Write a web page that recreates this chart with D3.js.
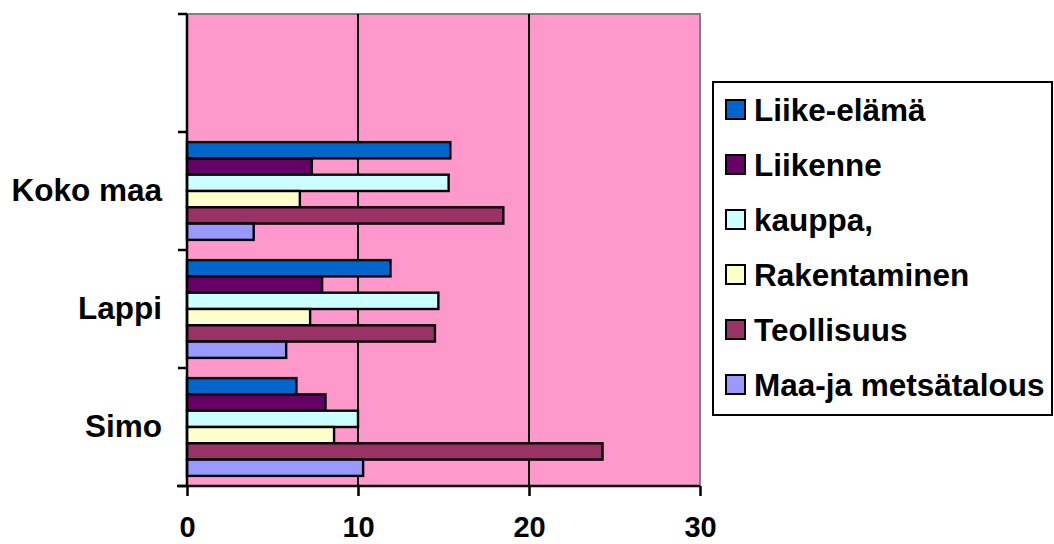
<!DOCTYPE html>
<html>
<head>
<meta charset="utf-8">
<script src="https://cdn.jsdelivr.net/npm/d3@7/dist/d3.min.js"></script>
<style>
  html, body { margin: 0; padding: 0; background: #fff; }
  svg { display: block; }
  text { font-family: Arial, "Liberation Sans", sans-serif; font-weight: bold; fill: #000; }
</style>
</head>
<body>
<svg id="chart" width="1054" height="544"></svg>
<script>
// ---- data ----
const categories = ["", "Koko maa", "Lappi", "Simo"]; // top to bottom
const dataCategories = ["Koko maa", "Lappi", "Simo"];
const seriesNames = ["Liike-elämä", "Liikenne", "kauppa,", "Rakentaminen", "Teollisuus", "Maa-ja metsätalous"];
const seriesColors = ["#0066CC", "#660066", "#CCFFFF", "#FFFFCC", "#993366", "#9999FF"];
const liikeElama   = [15.4, 11.9, 6.4];
const liikenne     = [7.3, 7.9, 8.1];
const kauppa       = [15.3, 14.7, 10.0];
const rakentaminen = [6.6, 7.2, 8.6];
const teollisuus   = [18.5, 14.5, 24.3];
const maaMetsa     = [3.9, 5.8, 10.3];
const xTicks = [0, 10, 20, 30];

const seriesValues = [liikeElama, liikenne, kauppa, rakentaminen, teollisuus, maaMetsa];

// ---- layout ----
const svg = d3.select("#chart");
const plot = { left: 187, right: 700, top: 14, bottom: 486 };

const x = d3.scaleLinear().domain([0, 30]).range([plot.left, plot.right]);
const y = d3.scaleBand().domain(categories).range([plot.top, plot.bottom]).paddingInner(0).paddingOuter(0);
const inner = d3.scaleBand().domain(seriesNames).range([0, y.bandwidth()]).paddingOuter(0.62).paddingInner(0);

// plot background
svg.append("rect")
  .attr("x", plot.left).attr("y", plot.top)
  .attr("width", plot.right - plot.left).attr("height", plot.bottom - plot.top)
  .attr("fill", "#FF99CC");

// gray border top & right
svg.append("path")
  .attr("d", `M${plot.left},${plot.top}H${plot.right}V${plot.bottom}`)
  .attr("fill", "none").attr("stroke", "#808080").attr("stroke-width", 2);

// gridlines
svg.append("g").selectAll("line")
  .data(xTicks.filter(t => t > 0 && t < 30))
  .join("line")
  .attr("x1", d => x(d)).attr("x2", d => x(d))
  .attr("y1", plot.top).attr("y2", plot.bottom)
  .attr("stroke", "#000").attr("stroke-width", 2);

// bars
const barData = [];
seriesNames.forEach((s, si) => {
  dataCategories.forEach((c, ci) => {
    barData.push({ series: s, cat: c, value: seriesValues[si][ci], color: seriesColors[si] });
  });
});
svg.append("g").selectAll("rect")
  .data(barData)
  .join("rect")
  .attr("x", x(0))
  .attr("y", d => y(d.cat) + inner(d.series))
  .attr("width", d => x(d.value) - x(0))
  .attr("height", inner.bandwidth())
  .attr("fill", d => d.color)
  .attr("stroke", "#000").attr("stroke-width", 2.4);

// x axis
const xAxis = d3.axisBottom(x).tickValues(xTicks).tickSize(10).tickPadding(20).tickFormat(d3.format("d"));
const gx = svg.append("g").attr("transform", `translate(0,${plot.bottom})`).call(xAxis);
gx.select(".domain").attr("stroke", "#000").attr("stroke-width", 2.5).attr("d", `M${plot.left - 10},0H${plot.right}`);
gx.selectAll(".tick line").attr("stroke", "#000").attr("stroke-width", 2.5);
gx.selectAll(".tick text").attr("font-size", 29).attr("font-family", "Arial, 'Liberation Sans', sans-serif").attr("font-weight", "bold").attr("fill", "#000");

// y axis
const yAxis = d3.axisLeft(y).tickSize(0).tickPadding(25);
const gy = svg.append("g").attr("transform", `translate(${plot.left},0)`).call(yAxis);
gy.select(".domain").attr("stroke", "#000").attr("stroke-width", 2.5).attr("d", `M0,${plot.top}V${plot.bottom}`);
gy.selectAll(".tick text").attr("font-size", 31.5).attr("font-family", "Arial, 'Liberation Sans', sans-serif").attr("font-weight", "bold").attr("fill", "#000");
// category boundary ticks
const bounds = categories.map(c => y(c)).concat([plot.bottom]);
svg.append("g").selectAll("line")
  .data(bounds)
  .join("line")
  .attr("x1", plot.left - 9).attr("x2", plot.left)
  .attr("y1", d => d).attr("y2", d => d)
  .attr("stroke", "#000").attr("stroke-width", 2.5);

// legend
const lg = svg.append("g");
lg.append("rect")
  .attr("x", 713).attr("y", 82).attr("width", 339).attr("height", 333)
  .attr("fill", "#fff").attr("stroke", "#000").attr("stroke-width", 2);
const items = lg.selectAll("g.item")
  .data(seriesNames)
  .join("g").attr("class", "item")
  .attr("transform", (d, i) => `translate(0,${110 + i * 55})`);
items.append("rect")
  .attr("x", 726).attr("y", -10).attr("width", 19).attr("height", 19)
  .attr("fill", (d, i) => seriesColors[i])
  .attr("stroke", "#000").attr("stroke-width", 2);
items.append("text")
  .attr("x", 754).attr("y", 0).attr("dy", "0.35em")
  .attr("font-size", 31.5)
  .text(d => d);
</script>
</body>
</html>
